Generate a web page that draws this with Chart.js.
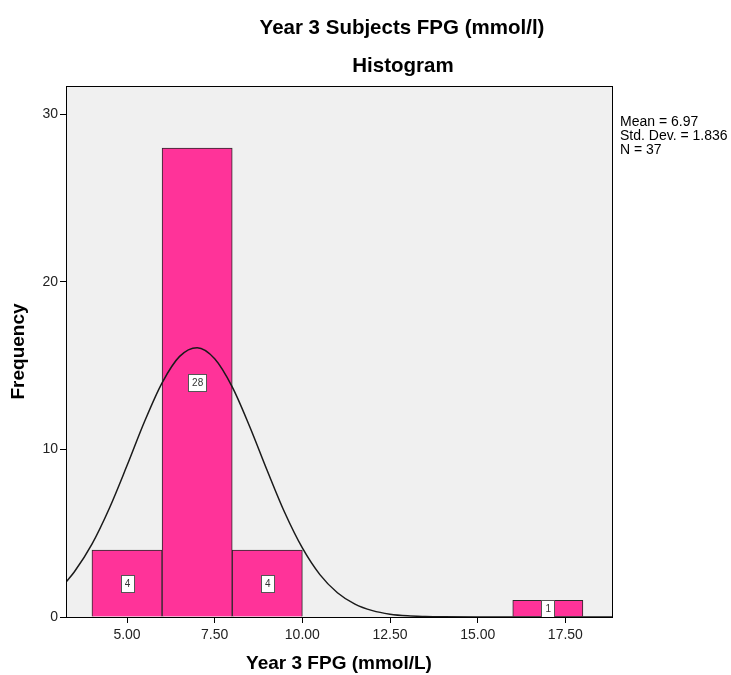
<!DOCTYPE html>
<html>
<head>
<meta charset="utf-8">
<script src="https://cdn.jsdelivr.net/npm/chart.js@4.4.1/dist/chart.umd.min.js"></script>
<style>
  html, body { margin: 0; padding: 0; background: #fff; }
  #wrap { width: 731px; height: 675px; }
</style>
</head>
<body>
<div id="wrap"><canvas id="histChart" width="731" height="675"></canvas></div>
<script>
// Datos del histograma (centros de clase, ancho 2)
const binCenters = [5, 7, 9, 17];
const frequencies = [4, 28, 4, 1];

// Curva normal superpuesta
const curveX = [3.26, 3.5, 4, 4.5, 5, 5.5, 6, 6.5, 7, 7.5, 8, 8.5, 9, 9.5, 10, 10.5, 11, 11.5, 12, 12.5, 13, 13.5, 14, 15, 16, 17, 18, 19];
const curveY = [2.09, 2.70, 4.35, 6.51, 9.04, 11.67, 13.98, 15.56, 16.08, 15.42, 13.74, 11.36, 8.73, 6.22, 4.12, 2.53, 1.45, 0.77, 0.38, 0.17, 0.07, 0.03, 0.01, 0, 0, 0, 0, 0];

// Etiquetas de ejes
const xTicks = [5, 7.5, 10, 12.5, 15, 17.5];
const yTicks = [0, 10, 20, 30];
const statsLines = ['Mean = 6.97', 'Std. Dev. = 1.836', 'N = 37'];

const FONT = '"Liberation Sans", Arial, sans-serif';

// Plugin: fondo, etiquetas de barras, marco y textos
const decorPlugin = {
    id: 'decor',
    beforeDraw(chart) {
        const { ctx, chartArea: a } = chart;
        ctx.save();
        ctx.fillStyle = '#f0f0f0';
        ctx.fillRect(a.left, a.top, a.right - a.left, a.bottom - a.top);
        ctx.restore();
    },
    afterDatasetsDraw(chart) {
        const { ctx } = chart;
        const xs = chart.scales.x, ys = chart.scales.y;
        ctx.save();
        ctx.font = '10px ' + FONT;
        ctx.textAlign = 'center';
        ctx.textBaseline = 'middle';
        binCenters.forEach((c, i) => {
            const px = xs.getPixelForValue(c);
            const py = ys.getPixelForValue(frequencies[i] / 2);
            const txt = String(frequencies[i]);
            const w = Math.round(ctx.measureText(txt).width + 7);
            const h = 17;
            const bx = Math.round(px - w / 2), by = Math.round(py - h / 2);
            ctx.fillStyle = '#ffffff';
            ctx.fillRect(bx, by, w, h);
            ctx.strokeStyle = '#555';
            ctx.lineWidth = 1;
            ctx.strokeRect(bx + 0.5, by + 0.5, w, h);
            ctx.fillStyle = '#333';
            ctx.fillText(txt, px + 0.5, py + 1);
        });
        ctx.restore();
    },
    afterDraw(chart) {
        const { ctx, chartArea: a } = chart;
        ctx.save();
        ctx.strokeStyle = '#000';
        ctx.lineWidth = 1;
        ctx.strokeRect(a.left + 0.5, a.top + 0.5, a.right - a.left, a.bottom - a.top);

        ctx.fillStyle = '#000';
        ctx.textAlign = 'center';
        ctx.textBaseline = 'middle';
        ctx.font = 'bold 20.5px ' + FONT;
        ctx.fillText('Year 3 Subjects FPG (mmol/l)', 402, 28);
        ctx.fillText('Histogram', 403, 66);

        ctx.textAlign = 'left';
        ctx.font = '14px ' + FONT;
        statsLines.forEach((s, i) => {
            ctx.fillText(s, a.right + 8, 122 + i * 14.3);
        });
        ctx.restore();
    }
};

document.addEventListener('DOMContentLoaded', function() {
    const ctx = document.getElementById('histChart').getContext('2d');
    new Chart(ctx, {
        type: 'bar',
        data: {
            datasets: [{
                type: 'bar',
                data: binCenters.map((x, i) => ({ x: x, y: frequencies[i] })),
                backgroundColor: '#ff3399',
                borderColor: '#2a2a2a',
                borderWidth: 1,
                barPercentage: 1,
                categoryPercentage: 1,
                order: 2
            }, {
                type: 'line',
                data: curveX.map((x, i) => ({ x: x, y: curveY[i] })),
                borderColor: '#1a1a1a',
                borderWidth: 1.5,
                pointRadius: 0,
                cubicInterpolationMode: 'monotone',
                fill: false,
                order: 1
            }]
        },
        options: {
            responsive: false,
            animation: false,
            layout: { padding: { top: 86, right: 119, left: 0, bottom: 0 } },
            plugins: {
                legend: { display: false },
                tooltip: { enabled: false }
            },
            scales: {
                x: {
                    type: 'linear',
                    min: 3.26,
                    max: 18.83,
                    offset: false,
                    afterBuildTicks: axis => { axis.ticks = xTicks.map(v => ({ value: v })); },
                    afterFit: axis => { axis.height = 58; },
                    grid: { drawOnChartArea: false, drawTicks: true, tickLength: 6, tickColor: '#000', offset: false },
                    border: { display: true, color: '#000' },
                    ticks: {
                        callback: v => Number(v).toFixed(2),
                        font: { family: FONT, size: 14 },
                        color: '#222',
                        padding: 4,
                        maxRotation: 0
                    },
                    title: {
                        display: true,
                        text: 'Year 3 FPG (mmol/L)',
                        font: { family: FONT, size: 19, weight: 'bold' },
                        color: '#000',
                        padding: { top: 0, bottom: 0 }
                    }
                },
                y: {
                    min: 0,
                    max: 31.7,
                    afterBuildTicks: axis => { axis.ticks = yTicks.map(v => ({ value: v })); },
                    afterFit: axis => { axis.width = 66; },
                    grid: { drawOnChartArea: false, drawTicks: true, tickLength: 6, tickColor: '#000' },
                    border: { display: true, color: '#000' },
                    ticks: {
                        font: { family: FONT, size: 14 },
                        color: '#222',
                        padding: 2
                    },
                    title: {
                        display: true,
                        text: 'Frequency',
                        font: { family: FONT, size: 19, weight: 'bold' },
                        color: '#000',
                        padding: { top: 7, bottom: 0 }
                    }
                }
            }
        },
        plugins: [decorPlugin]
    });
});
</script>
</body>
</html>
